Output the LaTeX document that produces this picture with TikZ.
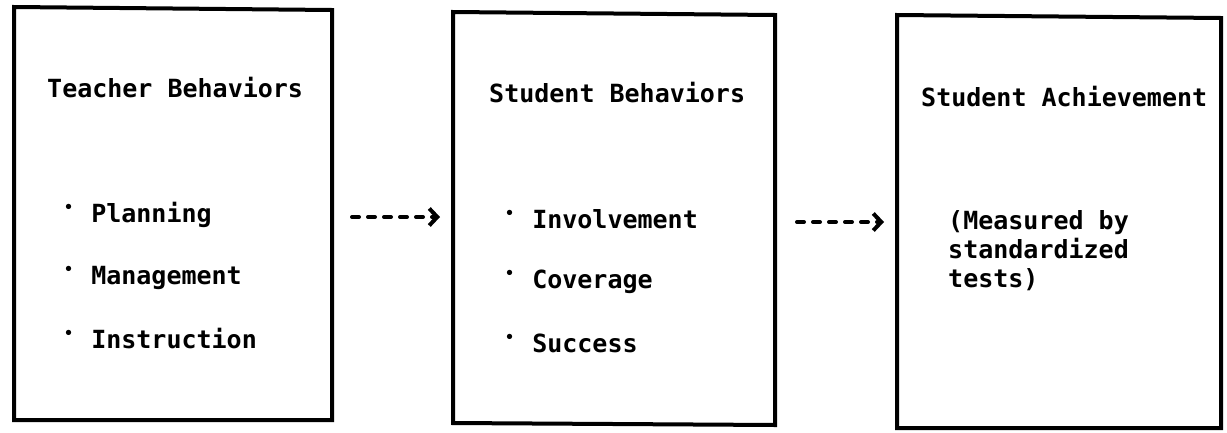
\documentclass[tikz,border=0pt]{standalone}
\usepackage{fontspec}
\usetikzlibrary{arrows.meta}
\newfontfamily\printfont{DejaVu Sans Mono}
% raised small bullet occupying one monospace cell
\newcommand{\bul}{\makebox[0.6em]{\raisebox{0.39em}{\scalebox{0.6}{•}}}}

\begin{document}
\begin{tikzpicture}[x=1pt,y=-1pt,
  panel/.style={minimum width=#1, minimum height=412pt,
                inner sep=0pt, outer sep=0pt},
  rim/.style={line width=4pt},
  lbl/.style={anchor=base west, inner sep=0pt,
              font=\printfont\bfseries\fontsize{25}{30}\selectfont},
  flow/.style={line width=4pt, line cap=round, dash pattern=on 7pt off 9pt,
               -{Straight Barb[length=8pt,width=17pt,line width=4pt]}}
]
\useasboundingbox (0,0) rectangle (1227,432);

% the three boxes (hand-ruled, slightly out of square)
\node[panel=318pt] (b1) at (173,214) {};
\node[panel=322pt] (b2) at (614,219) {};
\node[panel=324pt] (b3) at (1059,222) {};
\draw[rim] ([yshift=1pt]b1.north west) -- ([yshift=-2pt]b1.north east)
  -- (b1.south east) -- (b1.south west) -- cycle;
\draw[rim] ([yshift=1pt]b2.north west) -- ([yshift=-2pt]b2.north east)
  -- (b2.south east) -- ([yshift=2pt]b2.south west) -- cycle;
\draw[rim] ([yshift=1pt]b3.north west) -- ([yshift=-2pt]b3.north east)
  -- (b3.south east) -- (b3.south west) -- cycle;

% box 1
\node[lbl] (t1)  at (47,97)  {Teacher Behaviors};
\node[lbl] (t1a) at (61,222) {\bul\ Planning};
\node[lbl] (t1b) at (61,284) {\bul\ Management};
\node[lbl] (t1c) at (61,348) {\bul\ Instruction};

% box 2
\node[lbl] (t2)  at (489,102) {Student Behaviors};
\node[lbl] (t2a) at (502,228) {\bul\ Involvement};
\node[lbl] (t2b) at (502,288) {\bul\ Coverage};
\node[lbl] (t2c) at (502,352) {\bul\ Success};

% box 3
\node[lbl] (t3)  at (921,106) {Student Achievement};
\node[lbl] (t3a) at (948,229) {(Measured by};
\node[lbl] (t3b) at (948,258) {standardized};
\node[lbl] (t3c) at (948,287) {tests)};

% dashed connectors
\coordinate (r1) at (0,217);
\coordinate (r2) at (0,222);
\draw[flow, shorten <=20pt, shorten >=13pt] (b1.east |- r1) -- (b2.west |- r1);
\draw[flow, shorten <=22pt, shorten >=13pt] (b2.east |- r2) -- (b3.west |- r2);
\end{tikzpicture}
\end{document}
